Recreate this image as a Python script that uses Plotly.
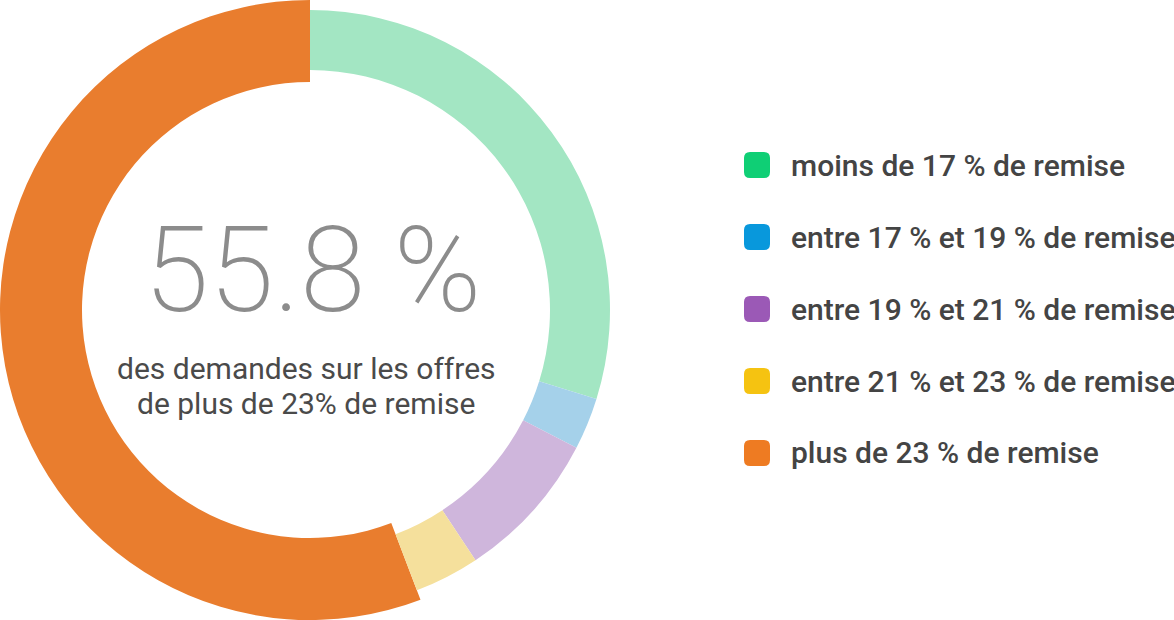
import plotly.graph_objects as go

W, H = 1174, 620

categories = [
    "moins de 17 % de remise",
    "entre 17 % et 19 % de remise",
    "entre 19 % et 21 % de remise",
    "entre 21 % et 23 % de remise",
    "plus de 23 % de remise",
]
values = [29.8, 2.8, 8.1, 3.5, 55.8]
slice_colors = ["#a3e6c3", "#a5d1ea", "#cfb6dc", "#f5e09c", "#e97d2e"]
legend_colors = ["#0fcf75", "#0898dc", "#9b59b6", "#f5c311", "#ee7b22"]
highlight_index = 4
big_text = "55.8 %"
sub_lines = ["des demandes sur les offres", "de plus de 23% de remise"]

TRANSP = "rgba(0,0,0,0)"

fig = go.Figure()

# highlighted (enlarged) slice
colsA = [c if i == highlight_index else TRANSP for i, c in enumerate(slice_colors)]
fig.add_trace(go.Pie(
    labels=categories, values=values, sort=False, direction="clockwise", rotation=0,
    hole=228 / 310, marker=dict(colors=colsA, line=dict(width=0)),
    textinfo="none", hoverinfo="skip", showlegend=False,
    domain=dict(x=[0, 620 / W], y=[0, 1]),
))
# other slices
colsB = [TRANSP if i == highlight_index else c for i, c in enumerate(slice_colors)]
fig.add_trace(go.Pie(
    labels=categories, values=values, sort=False, direction="clockwise", rotation=0,
    hole=240 / 300, marker=dict(colors=colsB, line=dict(width=0)),
    textinfo="none", hoverinfo="skip", showlegend=False,
    domain=dict(x=[10 / W, 610 / W], y=[10 / H, 610 / H]),
))

def px(x):
    return x / W

def py(y):
    return 1 - y / H

annotations = []
annotations.append(dict(
    x=px(312), y=py(271), xref="paper", yref="paper", text=big_text, showarrow=False,
    xanchor="center", yanchor="middle",
    font=dict(family="Roboto", size=118, color="#8c8c8c", weight=200),
))
for j, line in enumerate(sub_lines):
    annotations.append(dict(
        x=px(306), y=py(368 + j * 35), xref="paper", yref="paper", text=line, showarrow=False,
        xanchor="center", yanchor="middle",
        font=dict(family="Roboto", size=30, color="#4a4a4a"),
    ))

shapes = []
y0 = 165
dy = 72
sq = 26
rad = 6
for i, (lab, col) in enumerate(zip(categories, legend_colors)):
    cy = y0 + i * dy
    x1, x2 = 744, 744 + sq
    t, b = cy - sq / 2, cy + sq / 2
    path = (
        f"M {px(x1 + rad)} {py(t)} L {px(x2 - rad)} {py(t)} "
        f"Q {px(x2)} {py(t)} {px(x2)} {py(t + rad)} "
        f"L {px(x2)} {py(b - rad)} Q {px(x2)} {py(b)} {px(x2 - rad)} {py(b)} "
        f"L {px(x1 + rad)} {py(b)} Q {px(x1)} {py(b)} {px(x1)} {py(b - rad)} "
        f"L {px(x1)} {py(t + rad)} Q {px(x1)} {py(t)} {px(x1 + rad)} {py(t)} Z"
    )
    shapes.append(dict(type="path", xref="paper", yref="paper", path=path,
                       fillcolor=col, line=dict(width=0)))
    annotations.append(dict(
        x=px(789), y=py(cy), xref="paper", yref="paper", text=lab, showarrow=False,
        xanchor="left", yanchor="middle",
        font=dict(family="Roboto", size=30, color="#444444", weight=500),
    ))

fig.update_layout(
    width=W, height=H, margin=dict(l=0, r=0, t=0, b=0),
    paper_bgcolor="white", plot_bgcolor="white",
    annotations=annotations, shapes=shapes, showlegend=False,
)

fig.write_html("out.html", config={"displayModeBar": False})
